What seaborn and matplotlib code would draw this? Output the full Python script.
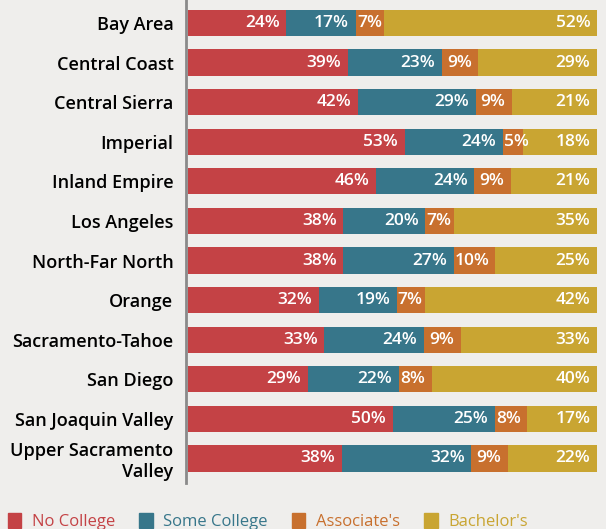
import numpy as np
import pandas as pd
import matplotlib.pyplot as plt
import matplotlib.patches as mpatches
import seaborn as sns

# Educational attainment by region (percent)
regions = ["Bay Area", "Central Coast", "Central Sierra", "Imperial", "Inland Empire",
           "Los Angeles", "North-Far North", "Orange", "Sacramento-Tahoe", "San Diego",
           "San Joaquin Valley", "Upper Sacramento\nValley"]
no_college = [24, 39, 42, 53, 46, 38, 38, 32, 33, 29, 50, 38]
some_college = [17, 23, 29, 24, 24, 20, 27, 19, 24, 22, 25, 32]
associates = [7, 9, 9, 5, 9, 7, 10, 7, 9, 8, 8, 9]
bachelors = [52, 29, 21, 18, 21, 35, 25, 42, 33, 40, 17, 22]

series_names = ["No College", "Some College", "Associate's", "Bachelor's"]
colors = ["#C44245", "#37768A", "#C8702E", "#C9A532"]
bg = "#EFEEEC"

sns.set_style("white")
plt.rcParams['font.family'] = ['Open Sans', 'DejaVu Sans']

vals = np.array([no_college, some_college, associates, bachelors], dtype=float)
shares = vals / vals.sum(axis=0) * 100
cum = np.cumsum(shares, axis=0)
starts = cum - shares

fig = plt.figure(figsize=(6.06, 5.29), dpi=100, facecolor=bg)
ax = fig.add_axes([186 / 606, 1 - 483 / 529, 411 / 606, 483 / 529])
ax.set_facecolor(bg)

# stacked bars: draw cumulative totals from the back to the front
for k in range(3, -1, -1):
    df = pd.DataFrame({"region": regions, "value": cum[k]})
    sns.barplot(data=df, x="value", y="region", orient="h", color=colors[k],
                saturation=1, width=0.66, ax=ax, linewidth=0)

ax.set_xlim(-0.5, 100)
ax.set_ylim(11.62, -0.58)

# value labels: right-aligned with padding, but never starting before the segment
renderer = fig.canvas.get_renderer()
inv = ax.transData.inverted()
for k in range(4):
    for i in range(len(regions)):
        t = ax.text(cum[k][i] - 1.6, i, f"{int(vals[k][i])}%", ha="right", va="center",
                    color="white", fontsize=12.5, fontweight="semibold")
        bb = t.get_window_extent(renderer)
        x0 = inv.transform((bb.x0, 0))[0]
        if x0 < starts[k][i] + 0.4:
            t.set_ha("left")
            t.set_x(starts[k][i] + 0.3)

ax.set_xlabel("")
ax.set_ylabel("")
ax.set_xticks([])
ax.tick_params(axis="y", length=0, pad=9)
for lab in ax.get_yticklabels():
    lab.set_fontsize(13)
    lab.set_fontweight("semibold")
    lab.set_color("#000000")
for s in ["top", "right", "bottom"]:
    ax.spines[s].set_visible(False)
ax.spines["left"].set_color("#8A8A8A")
ax.spines["left"].set_linewidth(2)

handles = [mpatches.Patch(color=c, label=n) for c, n in zip(colors, series_names)]
leg = fig.legend(handles=handles, loc="lower left", bbox_to_anchor=(-0.012, -0.03), ncol=4,
                 frameon=False, fontsize=12, handlelength=0.8, handleheight=1.0,
                 handletextpad=0.65, columnspacing=1.45)
for t, c in zip(leg.get_texts(), colors):
    t.set_color(c)

fig.savefig("out.png", dpi=100, facecolor=bg)
